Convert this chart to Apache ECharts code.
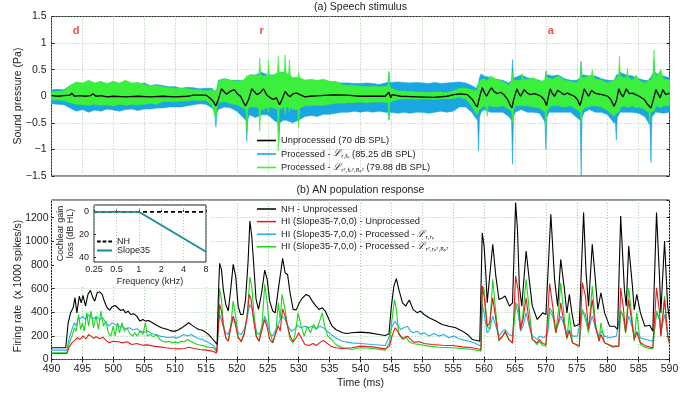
<!DOCTYPE html>
<html><head><meta charset="utf-8">
<script src="https://cdn.jsdelivr.net/npm/echarts@6/dist/echarts.min.js"></script>
<style>html,body{margin:0;padding:0;background:#fff}#c{width:699px;height:394px}</style>
</head><body><div id="c"></div>
<script>
// ---------- (a) Speech stimulus ----------
// unprocessed waveform (smooth) [t ms, Pa]
const stimUnproc = [[490,0.01],[491,0.0],[492,0.01],[493,0.02],[493.3,0.06],[493.7,0.0],[494.5,0.01],[495.5,0.0],[496.3,0.01],[496.7,0.045],[497.2,0.0],[498,0.01],[499,-0.01],[500,0.0],[502,-0.01],[504,0.0],[506,-0.01],[508,0.0],[510,-0.01],[512,0.0],[513,0.02],[515,0.02],[515.6,-0.03],[516.2,-0.1],[516.6,-0.18],[516.8,-0.19],[517.0,-0.06],[517.5,0.14],[517.9,0.09],[518.3,0.04],[518.9,0.09],[519.6,0.125],[520.1,0.04],[520.6,0.0],[521.0,-0.1],[521.4,-0.18],[521.9,-0.06],[522.4,0.14],[522.8,0.09],[523.2,0.03],[523.7,0.06],[524.3,0.14],[524.8,0.03],[525.4,-0.03],[525.9,-0.06],[526.4,-0.03],[526.9,-0.16],[527.3,-0.06],[527.8,0.09],[528.2,0.03],[528.6,-0.01],[529.1,0.05],[529.7,0.06],[530.2,0.03],[531.0,-0.01],[531.8,0.0],[533.5,0.01],[535.6,0.025],[537.8,0.02],[540,0.0],[542,0.0],[544,0.0],[544.3,0.01],[544.6,0.075],[544.9,-0.03],[545.1,0.03],[546.5,0.0],[549.2,-0.01],[551.9,-0.02],[554,0.0],[555.1,0.03],[556.2,0.045],[557.3,0.03],[558.1,-0.06],[558.6,-0.16],[558.9,-0.2],[559.3,0.0],[559.7,0.16],[560.1,0.06],[560.4,0.0],[560.8,0.09],[561.2,0.16],[561.6,0.09],[562.1,0.05],[562.7,0.075],[563.2,0.03],[563.8,-0.06],[564.2,-0.16],[564.5,-0.22],[564.8,-0.06],[565.3,0.14],[565.6,0.06],[565.9,0.0],[566.5,0.125],[567.0,0.06],[567.5,0.03],[568.1,0.05],[568.6,0.03],[569.2,0.0],[569.7,-0.06],[570.1,-0.175],[570.3,-0.06],[570.7,0.14],[571.0,0.06],[571.4,0.0],[571.9,0.11],[572.4,0.075],[572.9,0.03],[573.5,0.06],[574.0,0.03],[574.6,0.0],[575.1,-0.06],[575.5,-0.175],[575.8,-0.06],[576.2,0.14],[576.6,0.06],[576.9,0.0],[577.4,0.11],[577.9,0.06],[578.4,0.045],[579.1,0.03],[580.0,0.0],[580.5,-0.06],[581.0,-0.19],[581.4,-0.09],[581.8,0.14],[582.2,0.03],[582.5,-0.01],[583.0,0.14],[583.5,0.05],[584.0,0.06],[584.5,0.03],[585.1,0.0],[585.9,-0.06],[586.5,-0.16],[587.0,-0.22],[587.4,-0.06],[587.8,0.125],[588.2,0.03],[588.5,-0.03],[588.9,0.125],[589.4,0.03],[590,0.06]];
// processed waveforms: envelope [t ms, max Pa, min Pa]
const stimProcA = [[490,0.12,-0.14],[491,0.13,-0.15],[492,0.12,-0.16],[493,0.2,-0.22],[494,0.25,-0.28],[495,0.22,-0.25],[496,0.27,-0.3],[497,0.24,-0.26],[498,0.25,-0.28],[499,0.22,-0.24],[500,0.24,-0.26],[501,0.22,-0.28],[502,0.26,-0.25],[503,0.22,-0.24],[504,0.22,-0.27],[505,0.25,-0.24],[506,0.2,-0.24],[507,0.22,-0.22],[508,0.2,-0.22],[509,0.18,-0.2],[510,0.18,-0.2],[511,0.15,-0.2],[512,0.17,-0.18],[513,0.16,-0.16],[514,0.14,-0.14],[515,0.15,-0.15],[516,0.15,-0.22],[516.4,0.1,-0.3],[516.6,0.1,-0.58],[516.8,0.15,-0.3],[517,0.3,-0.25],[518,0.33,-0.2],[519,0.3,-0.22],[520,0.3,-0.28],[521,0.3,-0.4],[521.45,0.3,-0.45],[521.6,0.3,-0.85],[521.75,0.35,-0.45],[522,0.4,-0.35],[523,0.4,-0.4],[524,0.45,-0.35],[525,0.4,-0.35],[526,0.4,-0.45],[526.65,0.4,-0.5],[526.8,0.45,-0.85],[526.95,0.45,-0.5],[527.5,0.45,-0.45],[528,0.4,-0.45],[529,0.35,-0.5],[530,0.35,-0.45],[531,0.3,-0.38],[532,0.3,-0.36],[533,0.28,-0.38],[534,0.3,-0.34],[535,0.27,-0.34],[536,0.26,-0.32],[537,0.25,-0.3],[538,0.25,-0.3],[539,0.24,-0.28],[540,0.24,-0.3],[541,0.25,-0.28],[542,0.24,-0.3],[543,0.22,-0.28],[544,0.25,-0.3],[544.45,0.26,-0.3],[544.6,0.45,-0.45],[544.75,0.26,-0.3],[545,0.26,-0.3],[546,0.27,-0.32],[547,0.26,-0.3],[548,0.25,-0.32],[549,0.26,-0.3],[550,0.25,-0.3],[551,0.24,-0.32],[552,0.26,-0.3],[553,0.24,-0.28],[554,0.25,-0.3],[555,0.26,-0.28],[556,0.27,-0.2],[557,0.25,-0.2],[558,0.2,-0.3],[558.7,0.15,-0.42],[558.95,0.2,-0.45],[559.1,0.25,-1.03],[559.25,0.35,-0.4],[559.5,0.42,-0.3],[560,0.38,-0.25],[561,0.35,-0.3],[562,0.32,-0.3],[563,0.3,-0.3],[564,0.25,-0.38],[564.45,0.3,-0.45],[564.6,0.69,-1.28],[564.75,0.35,-0.4],[565,0.35,-0.3],[566,0.4,-0.25],[567,0.35,-0.3],[568,0.32,-0.3],[569,0.3,-0.32],[569.7,0.25,-0.45],[569.85,0.3,-0.5],[570.0,0.47,-1.0],[570.15,0.4,-0.4],[570.5,0.4,-0.3],[571,0.38,-0.3],[572,0.4,-0.3],[573,0.33,-0.3],[574,0.3,-0.3],[575,0.3,-0.4],[575.55,0.35,-0.45],[575.7,0.65,-1.5],[575.85,0.4,-0.4],[576.2,0.4,-0.3],[577,0.38,-0.25],[578,0.38,-0.3],[579,0.33,-0.3],[580,0.3,-0.35],[581,0.3,-0.5],[581.25,0.35,-0.5],[581.4,0.4,-0.82],[581.55,0.4,-0.4],[582,0.45,-0.3],[583,0.4,-0.3],[584,0.38,-0.3],[585,0.33,-0.32],[586,0.3,-0.38],[586.6,0.3,-0.5],[586.85,0.35,-0.55],[587,0.35,-1.25],[587.15,0.4,-0.4],[587.35,0.42,-0.35],[587.5,0.68,-0.35],[587.65,0.45,-0.3],[588,0.42,-0.3],[589,0.38,-0.32],[590,0.35,-0.3]];
const stimProcB = [[490,0.08,-0.07],[491,0.09,-0.07],[492,0.1,-0.08],[493,0.2,-0.12],[494,0.27,-0.15],[495,0.25,-0.16],[496,0.3,-0.17],[497,0.25,-0.15],[498,0.28,-0.17],[499,0.24,-0.16],[500,0.28,-0.18],[501,0.25,-0.15],[502,0.3,-0.17],[503,0.25,-0.15],[504,0.26,-0.16],[505,0.22,-0.15],[506,0.2,-0.13],[507,0.2,-0.15],[508,0.18,-0.1],[509,0.16,-0.1],[510,0.15,-0.1],[511,0.15,-0.09],[512,0.14,-0.09],[513,0.12,-0.07],[514,0.12,-0.08],[515,0.1,-0.07],[516,0.12,-0.18],[516.6,0.1,-0.45],[516.8,0.15,-0.18],[517,0.28,-0.12],[518,0.33,-0.1],[519,0.3,-0.14],[520,0.28,-0.16],[521,0.3,-0.22],[521.45,0.35,-0.25],[521.6,0.4,-0.66],[521.75,0.35,-0.25],[522,0.4,-0.2],[523,0.4,-0.2],[523.55,0.4,-0.22],[523.7,0.72,-0.66],[523.85,0.4,-0.25],[524.3,0.38,-0.25],[525.0,0.4,-0.2],[525.1,0.68,-0.3],[525.25,0.4,-0.2],[526,0.4,-0.22],[526.55,0.45,-0.25],[526.7,0.75,-1.03],[526.85,0.45,-0.25],[527.65,0.45,-0.2],[527.8,0.78,-0.35],[527.95,0.45,-0.2],[528.35,0.4,-0.2],[528.5,0.69,-0.3],[528.65,0.4,-0.2],[529,0.35,-0.25],[529.85,0.35,-0.25],[530,0.45,-0.6],[530.15,0.35,-0.22],[531,0.3,-0.18],[532,0.32,-0.18],[533,0.3,-0.17],[534,0.32,-0.17],[535,0.28,-0.15],[536,0.28,-0.13],[537,0.22,-0.13],[538,0.2,-0.12],[539,0.2,-0.12],[540,0.19,-0.11],[541,0.18,-0.12],[542,0.19,-0.11],[543,0.18,-0.11],[544,0.18,-0.11],[544.45,0.2,-0.12],[544.6,0.47,-0.44],[544.75,0.18,-0.12],[545,0.15,-0.1],[546,0.1,-0.06],[547,0.1,-0.05],[548,0.09,-0.05],[549,0.08,-0.06],[550,0.08,-0.05],[551,0.07,-0.05],[552,0.08,-0.06],[553,0.08,-0.05],[554,0.07,-0.05],[555,0.1,-0.04],[556,0.15,-0.02],[557,0.15,-0.05],[558,0.12,-0.18],[558.8,0.1,-0.35],[559.3,0.3,-0.25],[560,0.33,-0.18],[560.35,0.3,-0.22],[560.5,0.3,-0.38],[560.65,0.3,-0.18],[561,0.38,-0.18],[562,0.32,-0.2],[563,0.28,-0.18],[564,0.2,-0.25],[564.45,0.3,-0.28],[564.6,0.45,-0.5],[564.75,0.3,-0.28],[565,0.3,-0.18],[566.05,0.3,-0.18],[566.2,0.43,-0.18],[566.35,0.32,-0.18],[567,0.32,-0.18],[568,0.35,-0.2],[569,0.28,-0.22],[569.85,0.3,-0.3],[570,0.47,-0.63],[570.15,0.35,-0.28],[570.5,0.35,-0.22],[571,0.32,-0.18],[572,0.38,-0.18],[573,0.3,-0.2],[574,0.28,-0.18],[575,0.25,-0.25],[575.55,0.35,-0.3],[575.7,0.65,-0.53],[575.85,0.35,-0.28],[576.2,0.35,-0.22],[577.35,0.4,-0.18],[577.5,0.5,-0.18],[577.65,0.38,-0.18],[578,0.33,-0.18],[579,0.3,-0.2],[580,0.25,-0.27],[581,0.3,-0.38],[581.75,0.38,-0.28],[581.9,0.75,-0.28],[582.05,0.38,-0.22],[582.5,0.35,-0.18],[583.05,0.35,-0.2],[583.2,0.53,-0.22],[583.35,0.35,-0.2],[584,0.3,-0.18],[584.6,0.4,-0.22],[585,0.3,-0.2],[586,0.25,-0.25],[586.65,0.3,-0.3],[586.8,0.3,-0.53],[586.95,0.3,-0.3],[587.35,0.4,-0.28],[587.5,0.87,-0.28],[587.65,0.42,-0.22],[588,0.38,-0.18],[588.6,0.5,-0.22],[589,0.33,-0.18],[590,0.3,-0.18]];
const phonemes = [[494,1.23,'d'],[524,1.23,'r'],[570.8,1.23,'a']];

// ---------- (b) AN population response [t ms, x1000 spikes/s] ----------
const anNH = [[490,99],[492.3,100],[492.7,311],[493.1,395],[493.5,438],[493.8,523],[494.1,395],[494.5,537],[494.8,480],[495.1,542],[495.5,452],[495.9,551],[496.3,585],[496.7,523],[497.0,494],[497.4,565],[497.8,573],[498.2,551],[498.6,486],[499.0,438],[499.4,418],[499.8,446],[500.3,458],[500.7,438],[501.2,415],[501.6,424],[502.0,395],[502.4,410],[502.8,381],[503.3,387],[503.8,367],[504.3,325],[504.8,339],[505.2,325],[505.7,330],[506.2,316],[506.8,297],[507.3,282],[507.8,268],[508.4,260],[509.0,249],[509.5,240],[510.0,240],[510.5,249],[511.1,268],[511.6,288],[512.2,311],[512.7,291],[513.2,274],[513.8,254],[514.3,249],[514.9,232],[515.4,212],[515.9,184],[516.5,147],[516.8,127],[517.0,537],[517.2,814],[517.5,763],[517.8,593],[518.2,466],[518.6,410],[519.0,593],[519.4,805],[519.8,706],[520.2,452],[520.6,381],[521.0,381],[521.4,508],[521.8,819],[522.1,1172],[522.4,1045],[522.7,819],[523.1,508],[523.5,424],[524.0,565],[524.5,757],[524.9,678],[525.3,494],[525.8,410],[526.2,395],[526.7,593],[527.4,856],[527.8,734],[528.2,720],[528.6,565],[529.1,424],[529.6,420],[530.1,480],[530.6,520],[531.2,551],[531.7,537],[532.2,494],[532.8,452],[533.3,424],[533.8,438],[534.3,410],[534.9,339],[535.4,282],[536.0,254],[536.6,240],[537.1,226],[537.7,220],[538.6,226],[540,232],[541.5,225],[543,212],[544,203],[544.6,215],[545,452],[545.4,621],[545.8,684],[546.2,593],[546.8,480],[547.3,452],[547.9,503],[548.5,424],[549.2,395],[549.7,410],[550.3,381],[551.1,353],[552.2,325],[553.2,297],[554.3,282],[555.4,268],[556.5,240],[557.3,212],[558.1,170],[559.3,155],[559.7,1073],[560.0,960],[560.3,706],[560.5,480],[560.9,700],[561.4,975],[561.9,706],[562.4,508],[563.0,523],[563.4,537],[564.1,452],[564.6,480],[565.1,1328],[565.4,1100],[565.7,621],[566.1,452],[566.8,918],[567.3,678],[567.8,452],[568.6,339],[569.5,395],[570.0,380],[570.8,1229],[571.4,678],[571.9,452],[572.4,847],[573.0,593],[573.4,395],[573.8,551],[574.2,395],[574.6,282],[575.4,297],[576.1,1243],[576.5,734],[576.9,452],[577.5,975],[578.0,678],[578.4,424],[578.9,565],[579.5,395],[580.3,282],[581.1,282],[581.6,254],[582.1,1215],[582.7,593],[583.0,452],[583.4,960],[584.0,621],[584.3,420],[584.7,551],[585.3,395],[586.0,282],[586.8,290],[587.3,240],[587.9,1243],[588.4,678],[588.6,395],[589.2,1003],[589.7,452],[590,339]];
const anHIunproc = [[490,51],[492.5,51],[492.8,99],[493.3,141],[493.8,164],[494.2,184],[494.6,170],[495.1,198],[495.6,175],[496.0,212],[496.4,198],[496.8,178],[497.2,192],[497.8,175],[498.3,189],[498.8,164],[499.3,141],[500.0,155],[500.8,150],[501.5,141],[502.2,150],[503.0,127],[503.8,136],[504.7,121],[505.5,124],[506.5,113],[507.5,107],[508.5,99],[509.5,93],[510.5,90],[511.5,93],[512.3,104],[513.0,93],[514.0,85],[515.0,79],[516.0,71],[516.7,56],[517.0,254],[517.2,466],[517.5,410],[517.8,282],[518.2,184],[518.6,155],[519.0,268],[519.4,367],[519.8,282],[520.2,184],[520.7,155],[521.2,226],[521.6,339],[522.0,551],[522.3,508],[522.7,339],[523.1,198],[523.6,155],[524.0,240],[524.5,339],[524.9,268],[525.3,170],[525.8,141],[526.3,226],[526.7,282],[527.0,240],[527.4,429],[527.8,367],[528.2,282],[528.6,198],[529.1,150],[529.6,184],[530.0,226],[530.5,175],[531.0,127],[531.7,119],[532.3,136],[532.9,119],[533.5,147],[534.0,161],[534.5,141],[535.2,113],[536.0,99],[537.0,93],[538.6,99],[540,113],[541.9,107],[544.0,90],[544.7,113],[545.1,198],[545.6,268],[545.9,249],[546.5,198],[547.0,175],[547.6,198],[548.1,170],[548.6,147],[549.5,150],[550.3,136],[551.6,127],[553.2,121],[554.9,119],[556.5,107],[558.1,99],[559.5,85],[559.7,621],[560.0,537],[560.5,282],[560.9,311],[561.4,523],[561.9,339],[562.4,170],[563.0,198],[563.4,240],[564.0,170],[564.6,141],[565.1,706],[565.5,593],[565.9,254],[566.3,339],[566.8,523],[567.3,311],[567.8,170],[568.6,141],[568.9,170],[569.5,136],[570.0,127],[570.6,644],[571.1,452],[571.6,226],[572.1,339],[572.4,480],[573.0,282],[573.4,184],[573.8,240],[574.3,141],[575.4,113],[575.9,650],[576.4,537],[576.9,254],[577.5,508],[578.0,282],[578.6,155],[578.9,212],[579.5,141],[580.8,113],[581.8,113],[582.1,607],[582.5,452],[582.9,226],[583.4,508],[584.0,282],[584.3,170],[584.7,226],[585.3,141],[586.2,113],[587.3,99],[587.9,607],[588.4,395],[588.6,198],[589.2,508],[589.7,198],[590,141]];
const anHIprocA = [[490,79],[492.5,79],[492.8,170],[493.3,254],[493.7,311],[494.0,282],[494.3,353],[494.7,345],[495.0,367],[495.5,339],[495.9,381],[496.3,362],[496.8,345],[497.3,362],[497.8,339],[498.3,353],[498.8,311],[499.3,282],[499.8,311],[500.3,297],[500.8,282],[501.4,277],[502.0,260],[502.6,268],[503.2,249],[503.8,260],[504.4,240],[505.0,232],[505.6,240],[506.2,220],[506.8,212],[507.5,198],[508.2,192],[509.0,184],[509.6,192],[510.2,181],[510.8,192],[511.4,212],[512.0,198],[512.6,212],[513.2,192],[513.8,175],[514.4,170],[515.0,155],[515.7,136],[516.3,113],[516.8,71],[517.0,282],[517.2,381],[517.5,367],[517.8,282],[518.2,226],[518.6,212],[519.0,282],[519.4,367],[519.8,311],[520.2,226],[520.7,212],[521.2,254],[521.7,367],[522.1,466],[522.4,438],[522.8,311],[523.2,226],[523.6,212],[524.1,282],[524.5,367],[524.9,311],[525.3,226],[525.8,198],[526.3,254],[526.8,311],[527.3,367],[527.8,339],[528.3,282],[528.8,240],[529.3,254],[529.8,290],[530.3,268],[531.0,282],[531.6,268],[532.2,282],[532.8,260],[533.4,282],[534.0,268],[534.6,240],[535.2,212],[536.0,184],[537.0,155],[538.6,141],[540,136],[541.9,127],[544.0,119],[544.7,198],[545.1,282],[545.6,325],[545.9,297],[546.5,254],[547.0,268],[547.6,282],[548.1,240],[548.6,226],[549.2,240],[549.7,212],[550.3,226],[551.1,198],[551.9,220],[552.7,198],[553.5,212],[554.3,184],[555.1,198],[555.9,175],[556.8,164],[557.6,155],[558.4,141],[559.5,113],[559.7,466],[560.0,395],[560.5,226],[560.9,254],[561.4,367],[561.9,282],[562.4,198],[563.0,240],[563.4,254],[564.0,212],[564.6,198],[565.1,466],[565.5,395],[565.9,240],[566.3,282],[566.8,395],[567.3,282],[567.8,198],[568.6,170],[569.0,198],[569.7,184],[570.3,226],[570.6,410],[571.1,367],[571.6,254],[572.1,311],[572.4,367],[573.0,282],[573.4,212],[573.8,254],[574.3,198],[575.1,198],[575.9,410],[576.4,381],[576.9,254],[577.5,367],[578.0,268],[578.6,198],[578.9,240],[579.5,198],[580.3,184],[581.4,198],[582.1,410],[582.5,367],[582.9,254],[583.4,367],[584.0,268],[584.3,198],[584.7,240],[585.3,184],[586.2,170],[587.3,155],[587.9,395],[588.4,339],[588.6,226],[589.2,381],[589.7,226],[590,212]];
const anHIprocB = [[490,56],[492.5,56],[492.8,127],[493.3,198],[493.7,268],[494.0,240],[494.4,380],[494.7,254],[495.0,311],[495.3,240],[495.7,395],[496.0,282],[496.4,410],[496.8,268],[497.2,367],[497.6,254],[498.0,410],[498.4,282],[498.8,325],[499.2,226],[499.6,198],[500.0,282],[500.3,198],[500.7,311],[501.0,226],[501.4,311],[501.8,240],[502.2,268],[502.6,226],[503.1,198],[503.5,226],[503.9,198],[504.3,240],[504.8,212],[505.2,311],[505.5,198],[506.0,212],[506.5,192],[507.0,212],[507.5,170],[508.0,155],[508.5,147],[509.0,155],[509.5,141],[510.0,147],[510.5,141],[511.0,155],[511.5,150],[512.0,170],[512.5,155],[513.0,141],[513.6,127],[514.2,121],[514.8,113],[515.5,104],[516.2,99],[516.8,62],[517.0,339],[517.2,599],[517.5,508],[517.8,311],[518.2,184],[518.6,155],[519.0,282],[519.4,494],[519.8,367],[520.2,198],[520.7,147],[521.2,212],[521.7,395],[522.1,698],[522.4,621],[522.8,367],[523.2,198],[523.6,155],[524.1,311],[524.5,636],[524.9,480],[525.3,240],[525.8,147],[526.3,226],[526.7,480],[527.0,339],[527.3,551],[527.7,452],[528.2,282],[528.6,170],[529.1,141],[529.5,240],[529.9,395],[530.4,282],[530.9,198],[531.4,282],[531.9,226],[532.4,297],[532.9,254],[533.4,325],[533.8,395],[534.2,282],[534.7,198],[535.3,170],[536.0,127],[537.0,99],[538.6,85],[540,99],[541.9,93],[544.0,79],[544.7,141],[545.1,339],[545.5,508],[545.8,424],[546.2,212],[546.8,170],[547.3,198],[547.8,155],[548.4,136],[549.5,127],[551.1,113],[552.7,104],[554.9,99],[556.5,93],[558.1,85],[559.5,71],[559.7,621],[560.0,593],[560.5,282],[560.9,254],[561.4,678],[561.9,395],[562.4,155],[563.0,198],[563.4,226],[564.0,170],[564.6,136],[565.1,480],[565.5,452],[565.9,254],[566.3,395],[566.8,678],[567.3,424],[567.8,170],[568.6,127],[568.9,155],[569.5,119],[570.0,113],[570.6,438],[571.1,395],[571.6,226],[572.1,452],[572.4,650],[573.0,339],[573.4,170],[573.8,395],[574.3,141],[575.4,113],[575.9,424],[576.4,339],[576.9,226],[577.5,621],[578.0,311],[578.6,155],[578.9,311],[579.5,141],[580.8,104],[581.8,113],[582.1,410],[582.5,367],[582.9,226],[583.4,607],[584.0,311],[584.3,155],[584.7,395],[585.3,127],[586.2,99],[587.3,90],[587.9,410],[588.4,339],[588.6,198],[589.2,537],[589.7,198],[590,127]];

// ---------- inset: cochlear gain loss ----------
const insetNH = [[0.25,0],[8,0]];
const insetSlope35 = [[0.25,0],[1,0],[8,35]];
const insetLossTicks = [0,20,40];

// ---------- tick labels ----------
const pressureTicks = [-1.5,-1,-0.5,0,0.5,1,1.5];

const FONT = '"Liberation Sans", Arial, Helvetica, sans-serif';
const TXT = '#222';
const GRIDC = '#a3cba3';
const DOT = [1, 2];
const C_BLACK = '#000', C_BLUE = '#1aa6e0', C_GREEN = '#3def3d';
const C_RED = '#e8191b', C_LBLUE = '#2aa9ea', C_LGREEN = '#1ad61a', C_TEAL = '#168d8d';

const chart = echarts.init(document.getElementById('c'), null, {renderer: 'canvas'});

function bandItem(arr, color) {
  return function (params, api) {
    if (params.dataIndex !== 0) return null;
    const up = arr.map(d => api.coord([d[0], d[1]]));
    const lo = arr.map(d => api.coord([d[0], d[2]])).reverse();
    return {type: 'polygon', shape: {points: up.concat(lo)}, style: {fill: color, stroke: color, lineWidth: 0.6}};
  };
}

const topNames = ['Unprocessed (70 dB SPL)', 'Processed - Lrfp (85.25 dB SPL)', 'Processed - Lr2 (79.88 dB SPL)'];
const botNames = ['NH - Unprocessed', 'HI (Slope35-7,0,0) - Unprocessed', 'HI (Slope35-7,0,0) - Processed - Lrrp', 'HI (Slope35-7,0,0) - Processed - Lr2'];
const richText = {
  'Processed - Lrfp (85.25 dB SPL)': 'Processed - {L|ℒ}{s|r,fₚ} (85.25 dB SPL)',
  'Processed - Lr2 (79.88 dB SPL)': 'Processed - {L|ℒ}{s|r²,fₚ²,Rₚ²} (79.88 dB SPL)',
  'HI (Slope35-7,0,0) - Processed - Lrrp': 'HI (Slope35-7,0,0) - Processed - {L|ℒ}{s|r,rₚ}',
  'HI (Slope35-7,0,0) - Processed - Lr2': 'HI (Slope35-7,0,0) - Processed - {L|ℒ}{s|r²,rₚ²,Rₚ²}'
};
const legRich = {
  L: {fontFamily: 'DejaVu Serif', fontStyle: 'italic', fontSize: 9.5, lineHeight: 12, color: TXT},
  s: {fontFamily: 'DejaVu Sans', fontSize: 5.5, lineHeight: 5, verticalAlign: 'bottom', color: TXT}
};
const DASH_ICON = 'path://M0,0h4v2h-4z M6,0h4v2h-4z M12,0h4v2h-4z';

const hiddenAxis = (extra) => Object.assign({
  type: 'value', axisLine: {show: false}, axisLabel: {show: false}, splitLine: {show: false},
  axisTick: {show: true, inside: true, length: 3, lineStyle: {color: TXT}}
}, extra);

const option = {
  animation: false,
  textStyle: {fontFamily: FONT, color: TXT},
  grid: [
    {left: 51.5, top: 16.5, width: 618, height: 159.5, show: true, borderColor: '#222', borderWidth: 1, z: 0, containLabel: false, outerBoundsMode: 'none'},
    {left: 51.5, top: 200, width: 618, height: 159.5, show: true, borderColor: '#222', borderWidth: 1, z: 0, containLabel: false, outerBoundsMode: 'none'},
    {left: 94, top: 205, width: 112, height: 57, show: true, borderColor: '#222', borderWidth: 1, backgroundColor: '#fff', z: 11, containLabel: false, outerBoundsMode: 'none'}
  ],
  xAxis: [
    {gridIndex: 0, type: 'value', min: 490, max: 590, interval: 5, axisLine: {show: false},
      axisTick: {inside: true, length: 3, lineStyle: {color: TXT}}, axisLabel: {show: false},
      splitLine: {show: true, lineStyle: {color: GRIDC, type: DOT, width: 1}}},
    {gridIndex: 1, type: 'value', min: 490, max: 590, interval: 5, axisLine: {show: false},
      axisTick: {inside: true, length: 3, lineStyle: {color: TXT}},
      axisLabel: {fontSize: 10.5, color: TXT, margin: 4, fontFamily: FONT, formatter: v => String(v)},
      splitLine: {show: true, lineStyle: {color: GRIDC, type: DOT, width: 1}},
      name: 'Time (ms)', nameLocation: 'middle', nameGap: 18, nameTextStyle: {fontSize: 10.5, color: TXT, fontFamily: FONT}},
    {gridIndex: 2, type: 'log', logBase: 2, min: 0.25, max: 8, z: 12, axisLine: {show: false},
      axisTick: {inside: true, length: 2, lineStyle: {color: TXT}},
      axisLabel: {fontSize: 9, color: TXT, margin: 3, fontFamily: FONT, formatter: v => String(+v.toFixed(2))},
      splitLine: {show: true, lineStyle: {color: GRIDC, type: DOT}},
      name: 'Frequency (kHz)', nameLocation: 'middle', nameGap: 15, nameTextStyle: {fontSize: 9, color: TXT, fontFamily: FONT}},
    hiddenAxis({gridIndex: 0, position: 'top', min: 490, max: 590, interval: 5}),
    hiddenAxis({gridIndex: 1, position: 'top', min: 490, max: 590, interval: 5})
  ],
  yAxis: [
    {gridIndex: 0, type: 'value', min: -1.5, max: 1.5, interval: 0.5, axisLine: {show: false},
      axisTick: {inside: true, length: 3, lineStyle: {color: TXT}},
      axisLabel: {fontSize: 10.5, color: TXT, margin: 5, fontFamily: FONT,
        customValues: pressureTicks, formatter: v => (v < 0 ? '\u2212' + Math.abs(v) : String(v))},
      splitLine: {show: true, lineStyle: {color: GRIDC, type: DOT, width: 1}}},
    {gridIndex: 1, type: 'value', min: 0, max: 1350, interval: 200, axisLine: {show: false},
      axisTick: {inside: true, length: 3, lineStyle: {color: TXT}},
      axisLabel: {fontSize: 10.5, color: TXT, margin: 3, fontFamily: FONT, showMaxLabel: false, formatter: v => String(v)},
      splitLine: {show: true, lineStyle: {color: GRIDC, type: DOT, width: 1}}},
    {gridIndex: 2, type: 'value', inverse: true, min: -6, max: 44, z: 12, axisLine: {show: false},
      axisTick: {inside: true, length: 2, customValues: insetLossTicks, lineStyle: {color: TXT}},
      axisLabel: {fontSize: 9, color: TXT, margin: 5, fontFamily: FONT, customValues: insetLossTicks},
      splitLine: {show: false},
      name: 'Cochlear gain\nloss (dB HL)', nameLocation: 'middle', nameGap: 17,
      nameTextStyle: {fontSize: 9, lineHeight: 9.5, color: TXT, fontFamily: FONT}},
    hiddenAxis({gridIndex: 0, position: 'right', min: -1.5, max: 1.5, interval: 0.5}),
    hiddenAxis({gridIndex: 1, position: 'right', min: 0, max: 1350, interval: 200})
  ],
  legend: [
    {data: topNames.map(n => ({name: n, icon: 'rect'})), orient: 'vertical', left: 257, top: 134.5, padding: 0,
      itemWidth: 19, itemHeight: 1.6, itemGap: 1.5, selectedMode: false,
      formatter: n => richText[n] || n,
      textStyle: {fontSize: 9.3, lineHeight: 12, color: TXT, fontFamily: FONT, rich: legRich}},
    {data: botNames.map(n => ({name: n, icon: 'rect'})), orient: 'vertical', left: 257, top: 203, padding: 0,
      itemWidth: 19, itemHeight: 1.5, itemGap: 0.6, selectedMode: false,
      formatter: n => richText[n] || n,
      textStyle: {fontSize: 9.3, lineHeight: 12, color: TXT, fontFamily: FONT, rich: legRich}},
    {data: [{name: 'NH', icon: DASH_ICON}, {name: 'Slope35', icon: 'rect'}], orient: 'vertical', left: 97, top: 237, padding: 0, z: 13,
      itemWidth: 15, itemHeight: 2, itemGap: 0, selectedMode: false,
      textStyle: {fontSize: 9, lineHeight: 9, color: TXT, fontFamily: FONT}}
  ],
  graphic: [
    {type: 'rect', z: 10, shape: {x: 54, y: 201, width: 157, height: 86}, style: {fill: '#fff'}},
    {type: 'text', z: 20, x: 360.5, y: 7, style: {text: '(a) Speech stimulus', fill: TXT, font: '10.5px ' + FONT, textAlign: 'center', textVerticalAlign: 'middle'}},
    {type: 'text', z: 20, x: 360.5, y: 190.5, style: {text: '(b) AN population response', fill: TXT, font: '10.5px ' + FONT, textAlign: 'center', textVerticalAlign: 'middle'}},
    {type: 'text', z: 20, x: 18, y: 96, rotation: Math.PI / 2, style: {text: 'Sound pressure (Pa)', fill: TXT, font: '10.5px ' + FONT, textAlign: 'center', textVerticalAlign: 'middle'}},
    {type: 'text', z: 20, x: 18, y: 286, rotation: Math.PI / 2, style: {text: 'Firing rate  (x 1000 spikes/s)', fill: TXT, font: '10.5px ' + FONT, textAlign: 'center', textVerticalAlign: 'middle'}}
  ],
  series: [
    {name: topNames[1], type: 'custom', xAxisIndex: 0, yAxisIndex: 0, data: [[490, 0]], clip: true, z: 2,
      itemStyle: {color: C_BLUE}, renderItem: bandItem(stimProcA, C_BLUE), silent: true},
    {name: topNames[2], type: 'custom', xAxisIndex: 0, yAxisIndex: 0, data: [[490, 0]], clip: true, z: 2,
      itemStyle: {color: C_GREEN}, renderItem: bandItem(stimProcB, C_GREEN), silent: true},
    {name: topNames[0], type: 'line', xAxisIndex: 0, yAxisIndex: 0, data: stimUnproc, symbol: 'none', z: 3,
      lineStyle: {color: C_BLACK, width: 1.3}, itemStyle: {color: C_BLACK}},
    {name: 'phonemes', type: 'scatter', xAxisIndex: 0, yAxisIndex: 0, data: phonemes, symbolSize: 1, z: 4,
      itemStyle: {color: 'rgba(0,0,0,0)'},
      label: {show: true, position: 'inside', formatter: p => p.value[2], color: '#e8261f', fontWeight: 'bold', fontSize: 11, fontFamily: FONT}},

    {name: botNames[2], type: 'line', xAxisIndex: 1, yAxisIndex: 1, data: anHIprocA, symbol: 'none', z: 2,
      lineStyle: {color: C_LBLUE, width: 1.1}, itemStyle: {color: C_LBLUE}},
    {name: botNames[3], type: 'line', xAxisIndex: 1, yAxisIndex: 1, data: anHIprocB, symbol: 'none', z: 2,
      lineStyle: {color: C_LGREEN, width: 1.1}, itemStyle: {color: C_LGREEN}},
    {name: botNames[1], type: 'line', xAxisIndex: 1, yAxisIndex: 1, data: anHIunproc, symbol: 'none', z: 2,
      lineStyle: {color: C_RED, width: 1.1}, itemStyle: {color: C_RED}},
    {name: botNames[0], type: 'line', xAxisIndex: 1, yAxisIndex: 1, data: anNH, symbol: 'none', z: 3,
      lineStyle: {color: C_BLACK, width: 1.1}, itemStyle: {color: C_BLACK}},

    {name: 'NH', type: 'line', xAxisIndex: 2, yAxisIndex: 2, data: insetNH, symbol: 'none', z: 13,
      lineStyle: {color: '#000', width: 1.8, type: [4, 3]}, itemStyle: {color: '#000'}},
    {name: 'Slope35', type: 'line', xAxisIndex: 2, yAxisIndex: 2, data: insetSlope35, symbol: 'none', z: 14,
      lineStyle: {color: C_TEAL, width: 1.8}, itemStyle: {color: C_TEAL}}
  ]
};
chart.setOption(option);
</script></body></html>
